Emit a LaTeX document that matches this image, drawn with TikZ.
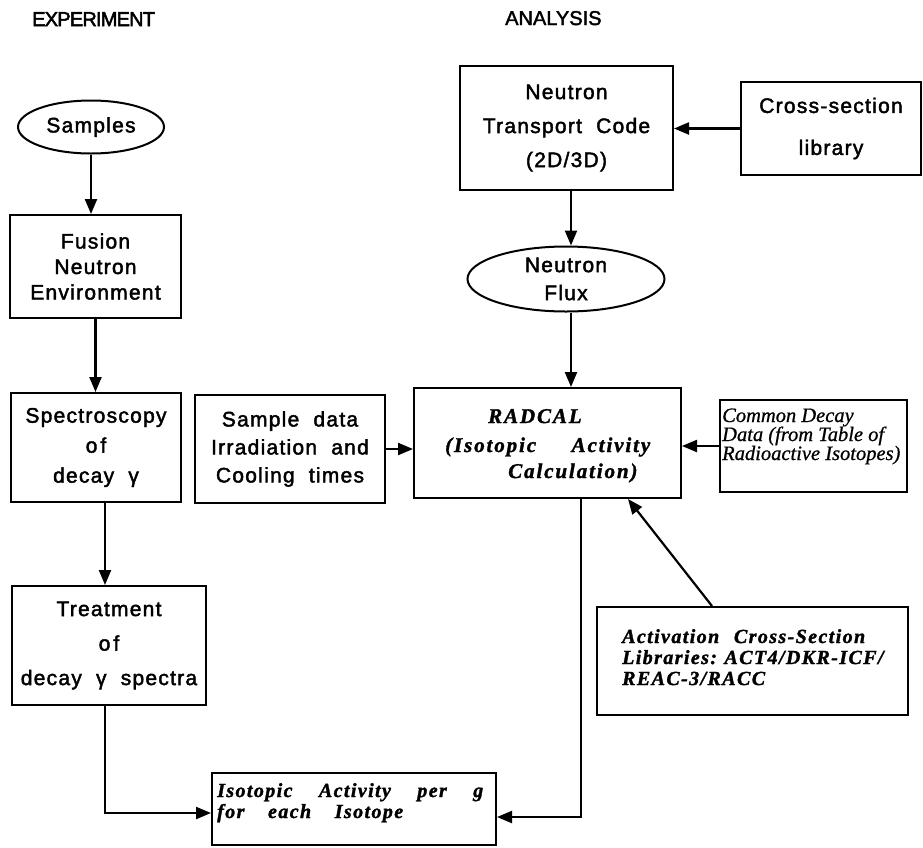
\documentclass[tikz,border=0pt]{standalone}
\usepackage{fontspec}
\setmainfont{Liberation Serif}
\newfontfamily\lsans[LetterSpace=6,FakeBold=2]{Liberation Sans}
\newfontfamily\hsans[FakeBold=2]{Liberation Sans}
\newfontfamily\csans[LetterSpace=-4,FakeBold=2.5]{Liberation Sans}
\newfontfamily\lserif[LetterSpace=7,FakeBold=1.5]{Liberation Serif}
\newfontfamily\rserif[LetterSpace=9,FakeBold=1.5]{Liberation Serif}
\newfontfamily\pserif[FakeBold=0.8]{Liberation Serif}
\newcommand\sbx[1]{\lsans\fontsize{21pt}{#1pt}\selectfont}
\usetikzlibrary{arrows.meta,shapes.geometric}
\begin{document}
\begin{tikzpicture}[x=1pt,y=-1pt,
  box/.style={draw, line width=2pt, inner sep=0pt, align=center},
  ell/.style={draw, ellipse, line width=2pt, inner sep=0pt, align=center},
  arr/.style={line width=2.2pt, -{Triangle[length=15pt,width=12pt]}},
  bitxt/.style={anchor=base west, inner sep=0pt, font=\lserif\bfseries\itshape\fontsize{20pt}{22pt}\selectfont},
  rctxt/.style={anchor=base west, inner sep=0pt, font=\rserif\bfseries\itshape\fontsize{21pt}{24pt}\selectfont},
  itxt/.style={anchor=base west, inner sep=0pt, font=\pserif\itshape\fontsize{20.5pt}{20pt}\selectfont},
  head/.style={anchor=base west, inner sep=0pt}
]
\useasboundingbox (0,0) rectangle (923,847);

% headers
\node[head, font=\csans\fontsize{20pt}{24pt}\selectfont] (hexp) at (32,26) {EXPERIMENT};
\node[head, font=\hsans\fontsize{20pt}{24pt}\selectfont] (hana) at (505,25) {ANALYSIS};

% experiment column
\node[ell, minimum width=146pt, minimum height=53pt, font=\sbx{25}] (samp) at (91,127) {Samples};
\node[box, minimum width=171pt, minimum height=103pt, font=\sbx{25.5}] (fusion) at (95.5,266.5) {Fusion\\Neutron\\Environment};
\node[box, minimum width=170pt, minimum height=109pt, font=\sbx{30}] (spec) at (96,447.5) {Spectroscopy\\o\hspace{3pt}f\\decay~~γ};
\node[box, minimum width=194pt, minimum height=119pt, font=\sbx{34.5}] (treat) at (109,645.5) {Treatment\\o\hspace{3pt}f\\decay~~γ~~spectra};
\node[box, minimum width=190pt, minimum height=108pt, font=\sbx{28}] (sdata) at (290,449) {Sample~~data\\Irradiation~~and\\Cooling~~times};

% analysis column
\node[box, minimum width=213pt, minimum height=124pt, font=\sbx{34}] (ntc) at (566.5,128) {Neutron\\Transport~~Code\\(2D/3D)};
\node[box, minimum width=180pt, minimum height=93pt, font=\sbx{42}] (csl) at (831,128.5) {Cross-section\\library};
\node[ell, minimum width=197pt, minimum height=65pt, font=\sbx{28}] (flux) at (566,279) {Neutron\\Flux};

\node[box, minimum width=267pt, minimum height=110pt] (radcal) at (547.5,443) {};
\node[rctxt] (rc1) at (488,423) {RADCAL};
\node[rctxt] (rc2) at (445,452) {\makebox[205pt][s]{(Isotopic Activity}};
\node[rctxt] (rc3) at (508,478) {Calculation)};

\node[box, minimum width=187pt, minimum height=92pt] (cdd) at (813.5,446) {};
\node[itxt] (cd1) at (722,422) {Common Decay};
\node[itxt] (cd2) at (722,441) {Data (from Table of};
\node[itxt] (cd3) at (722,460) {Radioactive Isotopes)};

\node[box, minimum width=311pt, minimum height=108pt] (act) at (752.5,661) {};
\node[bitxt] (ac1) at (622,643) {\makebox[243pt][s]{Activation Cross-Section}};
\node[bitxt] (ac2) at (622,664) {\makebox[261pt][s]{Libraries: ACT4/DKR-ICF/}};
\node[bitxt] (ac3) at (622,685) {REAC-3/RACC};

\node[box, minimum width=284pt, minimum height=72pt] (iso) at (354,809) {};
\node[bitxt] (is1) at (217,797) {\makebox[266pt][s]{Isotopic Activity per g}};
\node[bitxt] (is2) at (217,818) {\makebox[186pt][s]{for each Isotope}};

% connectors
\draw[arr] (samp.south) -- (samp.south |- fusion.north);
\draw[arr] (fusion.south) -- (fusion.south |- spec.north);
\path (spec.south) ++(9,0) coordinate (s2t);
\draw[arr] (s2t) -- (s2t |- treat.north);
\path (treat.south) ++(-4,0) coordinate (t2i);
\path (iso.west) ++(0,4) coordinate (isoW);
\draw[arr] (t2i) |- (isoW);
\draw[arr] (sdata.east) -- (sdata.east -| radcal.west);
\draw[arr] (csl.west) -- (csl.west -| ntc.east);
\path (ntc.south) ++(4.5,0) coordinate (n2f);
\draw[arr] (n2f) -- (n2f |- flux.north);
\path (flux.south) ++(5,0) coordinate (f2r);
\draw[arr] (f2r) -- (f2r |- radcal.north);
\draw[arr] (cdd.west) -- (cdd.west -| radcal.east);
\path (act.north) ++(-40.5,0) coordinate (a2r);
\path (radcal.south) ++(80.5,0) coordinate (r2a);
\draw[arr] (a2r) -- (r2a);
\path (radcal.south) ++(33.5,0) coordinate (r2i);
\path (iso.east) ++(0,8) coordinate (isoE);
\draw[arr] (r2i) |- (isoE);
\end{tikzpicture}
\end{document}
